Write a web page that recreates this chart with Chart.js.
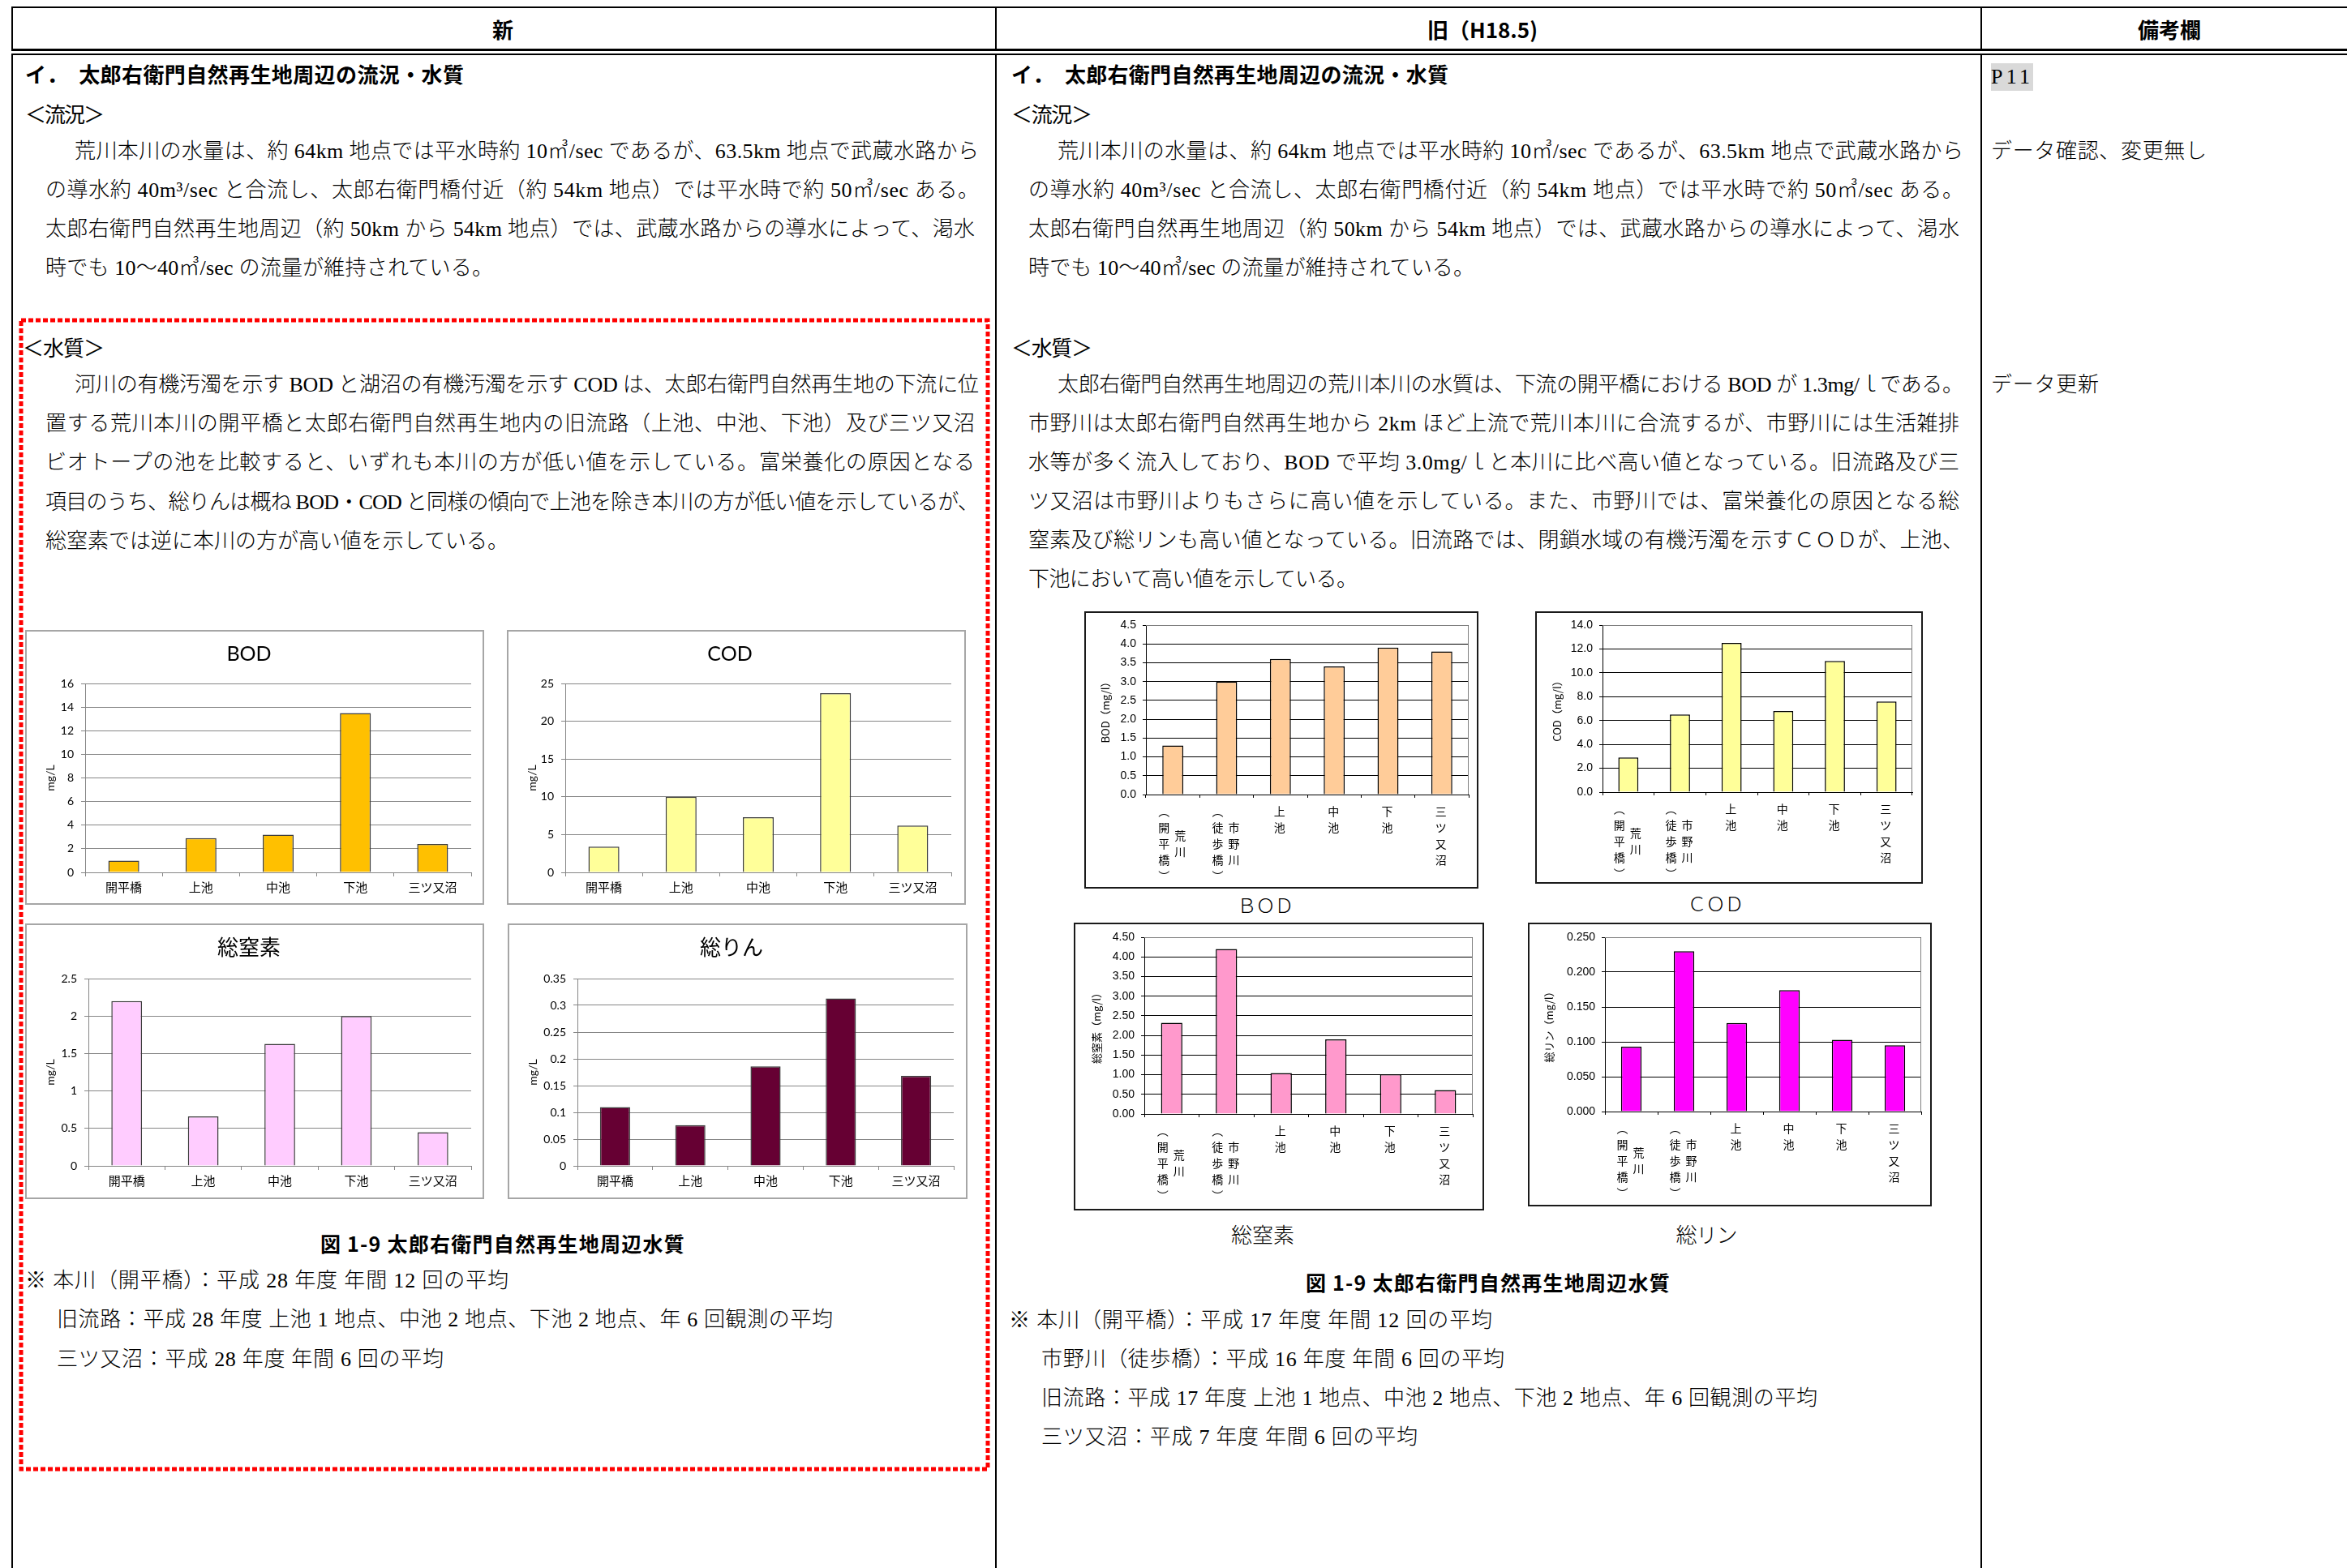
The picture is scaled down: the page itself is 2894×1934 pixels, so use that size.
<!DOCTYPE html>
<html lang="ja">
<head>
<meta charset="utf-8">
<title>太郎右衛門自然再生地周辺の流況・水質</title>
<script src="https://cdn.jsdelivr.net/npm/chart.js@4.4.1/dist/chart.umd.min.js"></script>
<style>
  html, body { margin: 0; padding: 0; background: #fff; }
  #page { position: relative; width: 2894px; height: 1934px; overflow: hidden; background: #fff; }
  .t { position: absolute; white-space: nowrap; line-height: 1; color: #000; }
  .mincho { font-family: "Liberation Serif", "Noto Sans CJK JP", serif; font-weight: 300; }
  .gothic { font-family: "Noto Sans CJK JP", sans-serif; }
  .b { font-weight: 700; }
  .hl { background: #d9d9d9; padding: 4px 0; }
  .rule { position: absolute; background: #000; }
  .box { position: absolute; box-sizing: border-box; }
  .box canvas { position: absolute; left: 0; top: 0; }
</style>
</head>
<body>
<div id="page">
  <svg style="position:absolute;left:0;top:0" width="2894" height="1934">
    <rect x="26" y="395" width="1192" height="1417" fill="none" stroke="#ff0000" stroke-width="5" stroke-dasharray="6 3"/>
  </svg>
</div>
<script>
// 新（平成28年度）
const newSites = ['開平橋', '上池', '中池', '下池', '三ツ又沼'];
const newBod = [1.0, 2.9, 3.2, 13.5, 2.4];
const newCod = [3.4, 10.0, 7.3, 23.7, 6.2];
const newTn = [2.2, 0.66, 1.63, 2.0, 0.45];
const newTp = [0.11, 0.076, 0.186, 0.313, 0.168];
const newBodTicks = ['0', '2', '4', '6', '8', '10', '12', '14', '16'];
const newCodTicks = ['0', '5', '10', '15', '20', '25'];
const newTnTicks = ['0', '0.5', '1', '1.5', '2', '2.5'];
const newTpTicks = ['0', '0.05', '0.1', '0.15', '0.2', '0.25', '0.3', '0.35'];

// 旧（H18.5）: labels are vertical, one entry per column (right to left)
const oldSites = [['荒川', '（開平橋）'], ['市野川', '（徒歩橋）'], ['上池'], ['中池'], ['下池'], ['三ツ又沼']];
const oldBod = [1.3, 3.0, 3.6, 3.4, 3.9, 3.8];
const oldCod = [2.9, 6.5, 12.5, 6.8, 11.0, 7.6];
const oldTn = [2.32, 4.20, 1.04, 1.90, 1.01, 0.61];
const oldTp = [0.093, 0.230, 0.127, 0.174, 0.103, 0.095];
const oldBodTicks = ['0.0', '0.5', '1.0', '1.5', '2.0', '2.5', '3.0', '3.5', '4.0', '4.5'];
const oldCodTicks = ['0.0', '2.0', '4.0', '6.0', '8.0', '10.0', '12.0', '14.0'];
const oldTnTicks = ['0.00', '0.50', '1.00', '1.50', '2.00', '2.50', '3.00', '3.50', '4.00', '4.50'];
const oldTpTicks = ['0.000', '0.050', '0.100', '0.150', '0.200', '0.250'];

const page = document.getElementById('page');
const GRID_2007 = '#868686';
const FONT_2007 = 'Lato, "Noto Sans CJK JP", sans-serif';
const FONT_2003 = '"Liberation Sans", "Noto Sans CJK JP", sans-serif';

function rule(x, y, w, h) {
  const d = document.createElement('div');
  d.className = 'rule';
  Object.assign(d.style, { left: x + 'px', top: y + 'px', width: w + 'px', height: h + 'px' });
  page.appendChild(d);
}

// table frame
rule(14, 8, 2880, 2);
rule(14, 60, 2880, 3);
rule(14, 8, 2, 55);
rule(1227, 8, 2, 55);
rule(2442, 8, 2, 55);
rule(14, 66, 2880, 2);
rule(14, 66, 2, 1868);
rule(1227, 66, 2, 1868);
rule(2442, 66, 2, 1868);

// [text, x, yCenter, size, class, width, align]
const texts = [
  ['新', 620, 36, 26, 'gothic b', null, 'center'],
  ['旧（H18.5)', 1828, 36, 26, 'gothic b', null, 'center'],
  ['備考欄', 2675, 36, 26, 'gothic b', null, 'center'],

  ['イ．　太郎右衛門自然再生地周辺の流況・水質', 31, 91, 26, 'gothic b', 541],
  ['＜流況＞', 31, 140, 26, 'gothic', 98],
  ['荒川本川の水量は、約 64km 地点では平水時約 10㎥/sec であるが、63.5km 地点で武蔵水路から', 92, 187, 26, 'mincho', 1115],
  ['の導水約 40m³/sec と合流し、太郎右衛門橋付近（約 54km 地点）では平水時で約 50㎥/sec ある。', 56, 235, 26, 'mincho', 1151],
  ['太郎右衛門自然再生地周辺（約 50km から 54km 地点）では、武蔵水路からの導水によって、渇水', 56, 283, 26, 'mincho', 1146],
  ['時でも 10～40㎥/sec の流量が維持されている。', 56, 331, 26, 'mincho', 552],
  ['＜水質＞', 28, 428, 26, 'gothic', 101],
  ['河川の有機汚濁を示す BOD と湖沼の有機汚濁を示す COD は、太郎右衛門自然再生地の下流に位', 92, 475, 26, 'mincho', 1115],
  ['置する荒川本川の開平橋と太郎右衛門自然再生地内の旧流路（上池、中池、下池）及び三ツ又沼', 56, 523, 26, 'mincho', 1146],
  ['ビオトープの池を比較すると、いずれも本川の方が低い値を示している。富栄養化の原因となる', 56, 571, 26, 'mincho', 1146],
  ['項目のうち、総りんは概ね BOD・COD と同様の傾向で上池を除き本川の方が低い値を示しているが、', 56, 620, 26, 'mincho', 1151],
  ['総窒素では逆に本川の方が高い値を示している。', 56, 668, 26, 'mincho', 571],
  ['図 1-9 太郎右衛門自然再生地周辺水質', 620, 1533, 25, 'gothic b', 449, 'center'],
  ['※ 本川（開平橋）：平成 28 年度 年間 12 回の平均', 31, 1580, 26, 'mincho', 596],
  ['旧流路：平成 28 年度 上池 1 地点、中池 2 地点、下池 2 地点、年 6 回観測の平均', 70, 1628, 26, 'mincho', 957],
  ['三ツ又沼：平成 28 年度 年間 6 回の平均', 70, 1677, 26, 'mincho', 477],

  ['イ．　太郎右衛門自然再生地周辺の流況・水質', 1247, 91, 26, 'gothic b', 539],
  ['＜流況＞', 1247, 140, 26, 'gothic', 100],
  ['荒川本川の水量は、約 64km 地点では平水時約 10㎥/sec であるが、63.5km 地点で武蔵水路から', 1304, 187, 26, 'mincho', 1117],
  ['の導水約 40m³/sec と合流し、太郎右衛門橋付近（約 54km 地点）では平水時で約 50㎥/sec ある。', 1268, 235, 26, 'mincho', 1153],
  ['太郎右衛門自然再生地周辺（約 50km から 54km 地点）では、武蔵水路からの導水によって、渇水', 1268, 283, 26, 'mincho', 1148],
  ['時でも 10～40㎥/sec の流量が維持されている。', 1268, 331, 26, 'mincho', 550],
  ['＜水質＞', 1247, 428, 26, 'gothic', 100],
  ['太郎右衛門自然再生地周辺の荒川本川の水質は、下流の開平橋における BOD が 1.3mg/ｌである。', 1304, 475, 26, 'mincho', 1117],
  ['市野川は太郎右衛門自然再生地から 2km ほど上流で荒川本川に合流するが、市野川には生活雑排', 1268, 523, 26, 'mincho', 1148],
  ['水等が多く流入しており、BOD で平均 3.0mg/ｌと本川に比べ高い値となっている。旧流路及び三', 1268, 571, 26, 'mincho', 1148],
  ['ツ又沼は市野川よりもさらに高い値を示している。また、市野川では、富栄養化の原因となる総', 1268, 619, 26, 'mincho', 1148],
  ['窒素及び総リンも高い値となっている。旧流路では、閉鎖水域の有機汚濁を示すＣＯＤが、上池、', 1268, 667, 26, 'mincho', 1153],
  ['下池において高い値を示している。', 1268, 715, 26, 'mincho', 406],
  ['ＢＯＤ', 1560, 1118, 24, 'mincho', 70, 'center'],
  ['ＣＯＤ', 2115, 1116, 24, 'mincho', 70, 'center'],
  ['総窒素', 1557, 1525, 26, 'mincho', 78, 'center'],
  ['総リン', 2104, 1525, 26, 'mincho', 76, 'center'],
  ['図 1-9 太郎右衛門自然再生地周辺水質', 1835, 1581, 25, 'gothic b', 449, 'center'],
  ['※ 本川（開平橋）：平成 17 年度 年間 12 回の平均', 1244, 1629, 26, 'mincho', 596],
  ['市野川（徒歩橋）：平成 16 年度 年間 6 回の平均', 1284, 1677, 26, 'mincho', 571],
  ['旧流路：平成 17 年度 上池 1 地点、中池 2 地点、下池 2 地点、年 6 回観測の平均', 1284, 1725, 26, 'mincho', 957],
  ['三ツ又沼：平成 7 年度 年間 6 回の平均', 1284, 1773, 26, 'mincho', 464],

  ['P11', 2455, 91, 26, 'mincho hl', 48],
  ['データ確認、変更無し', 2455, 187, 26, 'mincho', 266],
  ['データ更新', 2455, 475, 26, 'mincho', 133]
];

function addText([text, x, y, size, cls, width, align]) {
  const el = document.createElement('div');
  el.className = 't ' + cls;
  el.textContent = text;
  el.style.fontSize = size + 'px';
  el.style.top = (y - size / 2) + 'px';
  page.appendChild(el);
  const n = [...text].length;
  if (width && n > 1) {
    const natural = el.getBoundingClientRect().width;
    el.style.letterSpacing = ((width - natural) / (n - 1)) + 'px';
  }
  const w = el.getBoundingClientRect().width;
  el.style.left = (align === 'center' ? x - w / 2 : x) + 'px';
}
texts.forEach(addText);

function addCanvas(x, y, w, h, border) {
  const div = document.createElement('div');
  div.className = 'box';
  Object.assign(div.style, { left: x + 'px', top: y + 'px', width: w + 'px', height: h + 'px', border });
  const c = document.createElement('canvas');
  c.width = w - 4;
  c.height = h - 4;
  div.appendChild(c);
  page.appendChild(div);
  return c;
}

function tickAxis(labels) {
  const nums = labels.map(Number);
  const min = nums[0], max = nums[nums.length - 1], step = nums[1] - nums[0];
  return { min, max, step, label: v => labels[Math.round((v - min) / step)] };
}

// Excel 2007 style charts (left column)
function newChart(canvas, g, title, titleFont, values, color, tickLabels) {
  const ax = tickAxis(tickLabels);
  const lh = titleFont.size * 1.2;
  return new Chart(canvas, {
    type: 'bar',
    data: {
      labels: newSites,
      datasets: [{ data: values, backgroundColor: color, borderColor: '#3c3c3c', borderWidth: 1.5,
                   barPercentage: 0.4, categoryPercentage: 1 }]
    },
    options: {
      responsive: false, animation: false, devicePixelRatio: 1,
      layout: { padding: { left: 0, top: 0, bottom: 0, right: canvas.width - g.right } },
      plugins: {
        legend: { display: false },
        tooltip: { enabled: false },
        title: {
          display: true, text: title, color: '#000',
          font: { family: titleFont.family, size: titleFont.size, weight: 'normal', lineHeight: 1.2 },
          padding: { top: g.titleY - lh / 2, bottom: g.top - g.titleY - lh / 2 }
        }
      },
      scales: {
        x: {
          grid: { drawOnChartArea: false, offset: true, tickLength: 5, color: GRID_2007 },
          border: { color: GRID_2007 },
          ticks: { color: '#000', font: { family: FONT_2007, size: 15 }, padding: 5, maxRotation: 0, autoSkip: false },
          afterFit: s => { s.height = canvas.height - g.bottom; }
        },
        y: {
          min: ax.min, max: ax.max,
          ticks: { stepSize: ax.step, callback: ax.label, color: '#000',
                   font: { family: FONT_2007, size: 14, lineHeight: 1 }, padding: 9 },
          grid: { color: GRID_2007, tickLength: 5 },
          border: { color: GRID_2007 },
          title: { display: true, text: 'mg/L', color: '#000',
                   font: { family: FONT_2007, size: 14, lineHeight: 1.2 },
                   padding: { top: g.yTitleX - 8.4, bottom: 0 } },
          afterFit: s => { s.width = g.left; }
        }
      }
    }
  });
}

// gray frame on top and right of the plot area
const plotFrame = {
  id: 'plotFrame',
  beforeDatasetsDraw(chart) {
    const { ctx, chartArea: a } = chart;
    ctx.save();
    ctx.strokeStyle = '#808080';
    ctx.lineWidth = 1;
    ctx.beginPath();
    ctx.moveTo(Math.round(a.left), Math.round(a.top) + 0.5);
    ctx.lineTo(Math.round(a.right) - 0.5, Math.round(a.top) + 0.5);
    ctx.lineTo(Math.round(a.right) - 0.5, Math.round(a.bottom));
    ctx.stroke();
    ctx.restore();
  }
};

// vertical (tategaki) category labels under the x axis
const verticalLabels = {
  id: 'verticalLabels',
  afterDraw(chart, args, opts) {
    const { ctx } = chart;
    const x = chart.scales.x;
    ctx.save();
    ctx.font = opts.font;
    ctx.fillStyle = '#000';
    ctx.textAlign = 'center';
    ctx.textBaseline = 'middle';
    oldSites.forEach((cols, i) => {
      const cx = x.getPixelForValue(i);
      const maxLen = Math.max(...cols.map(c => [...c].length));
      cols.forEach((col, j) => {
        const chars = [...col.replace('（', '︵').replace('）', '︶')];
        const colX = cx - 1 + ((cols.length - 1) / 2 - j) * opts.colGap;
        const y0 = x.top + opts.offset + (maxLen - chars.length) / 2 * opts.step;
        chars.forEach((ch, k) => ctx.fillText(ch, colX, y0 + k * opts.step));
      });
    });
    ctx.restore();
  }
};

// Excel 2003 style charts (center column)
function oldChart(canvas, g, yTitle, values, color, tickLabels) {
  const ax = tickAxis(tickLabels);
  return new Chart(canvas, {
    type: 'bar',
    data: {
      labels: oldSites.map(c => c.join('')),
      datasets: [{ data: values, backgroundColor: color, borderColor: '#000', borderWidth: 1.5,
                   barPercentage: 0.39, categoryPercentage: 1 }]
    },
    plugins: [plotFrame, verticalLabels],
    options: {
      responsive: false, animation: false, devicePixelRatio: 1,
      layout: { padding: { left: 0, top: g.top, bottom: 0, right: canvas.width - g.right } },
      plugins: {
        legend: { display: false },
        tooltip: { enabled: false },
        verticalLabels: { font: '14px "Noto Sans CJK JP"', offset: 21, step: 20, colGap: 20 }
      },
      scales: {
        x: {
          grid: { drawOnChartArea: false, offset: true, tickLength: 4, color: '#000' },
          border: { color: '#000' },
          ticks: { display: false },
          afterFit: s => { s.height = canvas.height - g.bottom; }
        },
        y: {
          min: ax.min, max: ax.max,
          ticks: { stepSize: ax.step, callback: ax.label, color: '#000',
                   font: { family: FONT_2003, size: 14, lineHeight: 1 }, padding: 8 },
          grid: { color: '#000', tickLength: 4 },
          border: { color: '#000' },
          title: { display: true, text: yTitle, color: '#000',
                   font: { family: '"Noto Sans CJK JP", sans-serif', size: 13, lineHeight: 1.2 },
                   padding: { top: g.yTitleX - 7.8, bottom: 0 } },
          afterFit: s => { s.width = g.left; }
        }
      }
    }
  });
}

const BORDER_2007 = '2px solid #a6a6a6';
const BORDER_2003 = '2px solid #1a1a1a';
const latinTitle = { family: FONT_2007, size: 25 };
const jpTitle = { family: FONT_2007, size: 26 };

newChart(addCanvas(31, 777, 566, 339, BORDER_2007),
  { left: 72, right: 548, top: 64, bottom: 297, titleY: 28, yTitleX: 29 },
  'BOD', latinTitle, newBod, '#ffc000', newBodTicks);
newChart(addCanvas(625, 777, 566, 339, BORDER_2007),
  { left: 70, right: 546, top: 64, bottom: 297, titleY: 28, yTitleX: 29 },
  'COD', latinTitle, newCod, '#ffff99', newCodTicks);
newChart(addCanvas(31, 1139, 566, 340, BORDER_2007),
  { left: 76, right: 548, top: 66, bottom: 297, titleY: 29, yTitleX: 29 },
  '総窒素', jpTitle, newTn, '#ffccff', newTnTicks);
newChart(addCanvas(626, 1139, 567, 340, BORDER_2007),
  { left: 84, right: 548, top: 66, bottom: 297, titleY: 29, yTitleX: 29 },
  '総りん', jpTitle, newTp, '#660033', newTpTicks);

oldChart(addCanvas(1337, 754, 486, 342, BORDER_2003),
  { left: 74, right: 472, top: 15, bottom: 224, yTitleX: 24 },
  'BOD（mg/l）', oldBod, '#ffcc99', oldBodTicks);
oldChart(addCanvas(1893, 754, 478, 336, BORDER_2003),
  { left: 81, right: 463, top: 15, bottom: 221, yTitleX: 25 },
  'COD（mg/l）', oldCod, '#ffff99', oldCodTicks);
oldChart(addCanvas(1324, 1138, 506, 355, BORDER_2003),
  { left: 85, right: 490, top: 16, bottom: 234, yTitleX: 26 },
  '総窒素（mg/l）', oldTn, '#ff99cc', oldTnTicks);
oldChart(addCanvas(1884, 1138, 498, 350, BORDER_2003),
  { left: 93, right: 483, top: 16, bottom: 231, yTitleX: 24 },
  '総リン（mg/l）', oldTp, '#ff00ff', oldTpTicks);
</script>
</body>
</html>
